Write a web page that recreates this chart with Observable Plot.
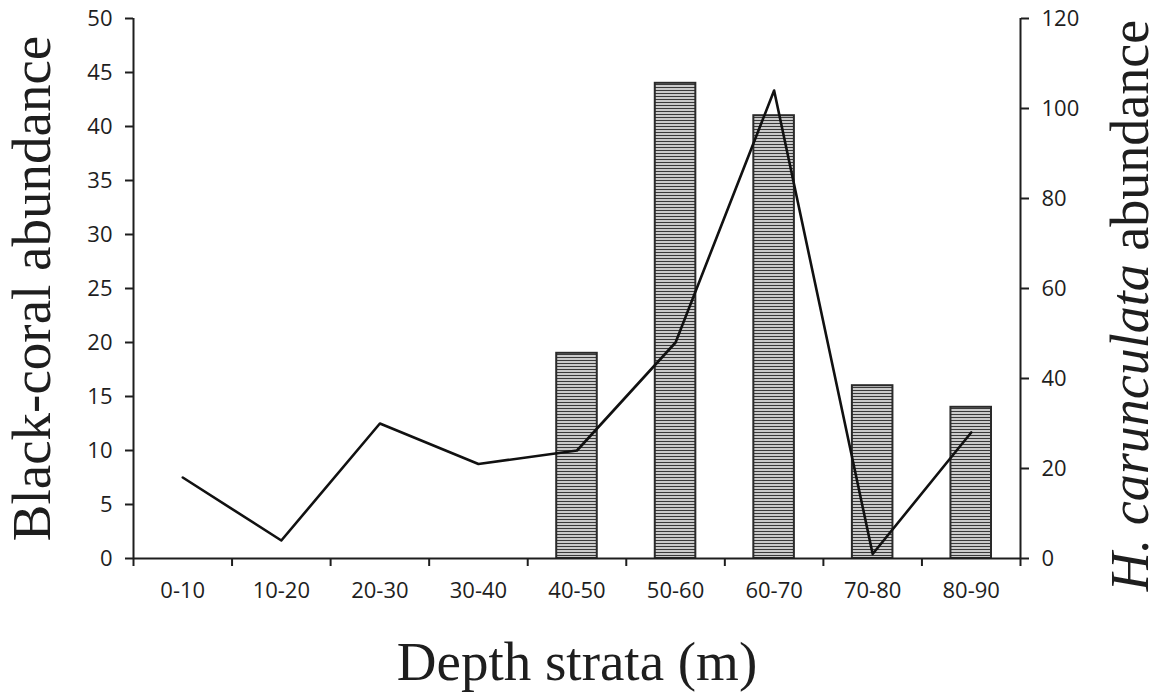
<!DOCTYPE html>
<html><head><meta charset="utf-8">
<script src="https://cdn.jsdelivr.net/npm/d3@7"></script>
<script src="https://cdn.jsdelivr.net/npm/@observablehq/plot@0.6"></script>
<style>body{margin:0;background:#fff}</style>
</head><body><div id="chart"></div>
<script>
const depthStrata = ["0-10","10-20","20-30","30-40","40-50","50-60","60-70","70-80","80-90"];
const blackCoral = [0,0,0,0,19,44,41,16,14];
const hCarunculata = [18,4,30,21,24,48,104,1,28];
const leftTicks = [0,5,10,15,20,25,30,35,40,45,50];
const rightTicks = [0,20,40,60,80,100,120];
const leftMax = 50, rightMax = 120;
const xTitle = "Depth strata (m)";
const leftTitle = "Black-coral abundance";
const rightTitle = "H. carunculata abundance";

const k = leftMax / rightMax;
const data = depthStrata.map((s, i) => ({i, stratum: s, coral: blackCoral[i], hc: hCarunculata[i]}));
const ink = "#1e1e1e";
const serif = "'Liberation Serif', 'Times New Roman', serif";

const plot = Plot.plot({
  width: 1159, height: 695,
  marginLeft: 133, marginRight: 139, marginTop: 18, marginBottom: 137,
  style: {fontFamily: "'Open Sans', sans-serif", fontSize: "22px", background: "#fff", color: ink},
  x: {domain: [0, depthStrata.length]},
  y: {domain: [0, leftMax]},
  marks: [
    Plot.rectY(data.filter(d => d.coral > 0), {x1: d => d.i, x2: d => d.i + 1, y1: 0, y2: "coral", insetLeft: 29, insetRight: 29, fill: "url(#hatch)", stroke: "#2a2a2a", strokeWidth: 2}),
    Plot.line(data, {x: d => d.i + 0.5, y: d => d.hc * k, stroke: "#111", strokeWidth: 2.6}),
    Plot.ruleY([0], {stroke: ink, strokeWidth: 2}),
    Plot.ruleX([0, depthStrata.length], {stroke: ink, strokeWidth: 2}),
    Plot.axisY({ticks: leftTicks, tickSize: 8, tickPadding: 13, label: null, strokeWidth: 2}),
    Plot.axisY({anchor: "right", ticks: rightTicks.map(v => v * k), tickFormat: v => String(Math.round(v / k)), tickSize: 8, tickPadding: 13, label: null, strokeWidth: 2}),
    Plot.axisX({ticks: d3.range(0, depthStrata.length + 1), tickFormat: () => "", tickSize: 8, label: null, strokeWidth: 2}),
    Plot.axisX({ticks: data.map(d => d.i + 0.5), tickFormat: v => depthStrata[Math.floor(v)], tickSize: 0, tickPadding: 24, label: null}),
    Plot.text([xTitle], {frameAnchor: "bottom", textAnchor: "middle", lineAnchor: "middle", dy: 104, fontSize: 55, fontFamily: serif, fill: ink}),
    Plot.text([leftTitle], {frameAnchor: "left", textAnchor: "middle", lineAnchor: "middle", rotate: -90, dx: -101, fontSize: 55, fontFamily: serif, fill: ink}),
    Plot.text([rightTitle], {frameAnchor: "right", textAnchor: "middle", lineAnchor: "middle", rotate: -90, dx: 110, dy: 17, fontSize: 54, fontFamily: serif, fill: ink})
  ]
});

const svg = d3.select(plot);
const defs = svg.insert("defs", ":first-child");
const pat = defs.append("pattern").attr("id", "hatch").attr("patternUnits", "userSpaceOnUse").attr("width", 8).attr("height", 3);
pat.append("rect").attr("width", 8).attr("height", 3).attr("fill", "#cacaca");
pat.append("rect").attr("y", 0).attr("width", 8).attr("height", 1).attr("fill", "#3a3a3a");

svg.selectAll("text").filter(function() { return this.textContent === rightTitle; }).each(function() {
  const t = d3.select(this);
  t.text(null);
  t.append("tspan").attr("font-style", "italic").text("H. carunculata");
  t.append("tspan").text(" abundance");
});

document.getElementById("chart").appendChild(plot);
</script>
</body></html>
